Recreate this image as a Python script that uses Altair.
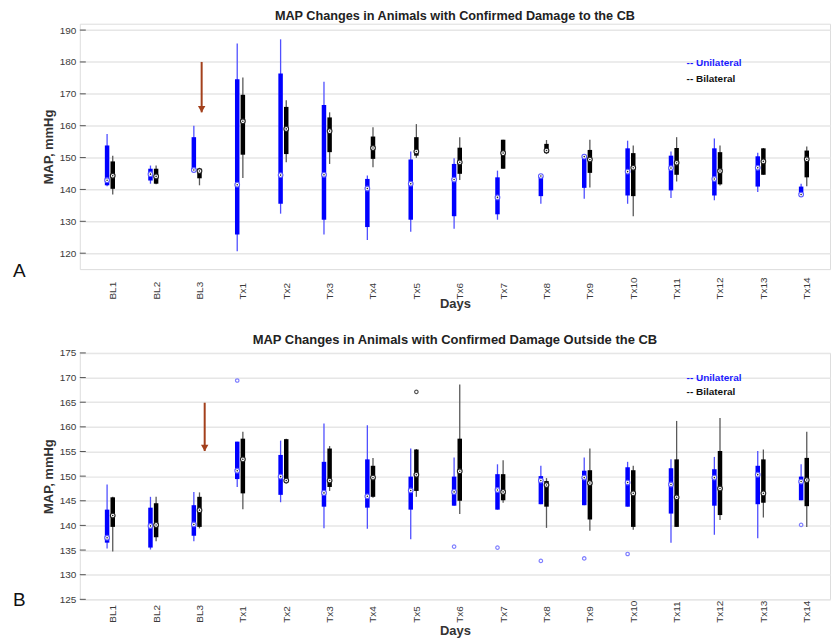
import altair as alt
import pandas as pd

days = ["BL1", "BL2", "BL3", "Tx1", "Tx2", "Tx3", "Tx4", "Tx5", "Tx6",
        "Tx7", "Tx8", "Tx9", "Tx10", "Tx11", "Tx12", "Tx13", "Tx14"]
groups = ["Unilateral", "Bilateral"]

# ---------------- Panel A: damage to the CB ----------------
a_uni_low  = [141.0, 141.8, 145.8, 120.6, 132.4, 125.9, 124.1, 126.7, 127.7, 130.5, 135.5, 137.1, 135.5, 137.3, 136.6, 139.2, 138.3]
a_uni_q1   = [141.3, 142.8, 145.9, 125.9, 135.5, 130.5, 128.2, 130.5, 131.6, 132.2, 137.9, 140.5, 138.1, 139.7, 138.1, 140.9, 138.5]
a_uni_med  = [142.9, 144.8, 146.1, 141.5, 144.5, 144.6, 140.3, 141.8, 143.1, 137.5, 144.2, 150.3, 145.6, 146.7, 143.3, 146.8, 138.4]
a_uni_q3   = [153.8, 146.5, 156.4, 174.6, 176.4, 166.5, 143.3, 149.4, 148.0, 143.8, 144.2, 150.6, 152.9, 150.6, 152.9, 150.4, 140.9]
a_uni_high = [157.4, 147.5, 160.0, 185.8, 187.1, 173.8, 144.4, 151.9, 149.8, 145.9, 144.2, 150.8, 155.3, 151.9, 156.0, 151.5, 141.8]

a_bi_low  = [138.4, 141.6, 141.3, 143.6, 148.5, 148.0, 147.0, 149.9, 143.0, 146.5, 151.1, 140.6, 131.6, 142.5, 141.2, 144.6, 141.0]
a_bi_q1   = [140.2, 141.8, 143.5, 150.9, 151.1, 151.7, 149.6, 150.6, 144.9, 146.5, 151.4, 145.2, 137.9, 144.6, 141.6, 144.6, 143.8]
a_bi_med  = [144.3, 144.1, 145.8, 161.4, 159.0, 158.3, 153.0, 151.9, 148.5, 151.4, 152.2, 149.4, 146.8, 148.4, 145.8, 148.8, 149.5]
a_bi_q3   = [148.8, 146.5, 146.5, 169.7, 165.9, 162.6, 156.6, 156.4, 153.1, 155.6, 154.3, 152.4, 151.4, 153.0, 151.7, 152.9, 152.2]
a_bi_high = [150.6, 147.5, 146.8, 175.1, 168.0, 164.2, 159.5, 160.5, 156.4, 155.6, 155.5, 155.6, 153.8, 156.4, 153.8, 153.0, 153.5]

a_out_group = []
a_out_day = []
a_out_val = []

# ---------------- Panel B: damage outside the CB ----------------
b_uni_low  = [135.3, 135.1, 136.8, 147.8, 144.7, 139.4, 139.3, 137.2, 144.0, 143.2, 144.3, 144.1, 143.8, 136.5, 138.1, 137.4, 145.1]
b_uni_q1   = [136.5, 135.5, 137.9, 149.4, 146.2, 143.8, 143.6, 143.2, 144.0, 143.2, 144.3, 144.1, 143.8, 142.4, 144.0, 144.3, 145.1]
b_uni_med  = [137.5, 139.9, 140.2, 151.1, 149.9, 146.6, 145.9, 147.1, 146.8, 147.2, 149.1, 149.7, 148.7, 148.3, 149.7, 150.3, 148.9]
b_uni_q3   = [143.2, 143.6, 144.1, 157.0, 154.3, 152.9, 153.4, 149.9, 149.9, 150.4, 150.0, 151.1, 151.8, 151.6, 151.4, 152.1, 149.9]
b_uni_high = [148.3, 145.8, 146.8, 157.0, 157.2, 160.7, 160.3, 155.6, 153.8, 152.4, 152.1, 153.8, 152.9, 153.4, 153.9, 155.1, 152.4]

b_bi_low  = [134.7, 136.8, 139.4, 143.3, 148.5, 147.0, 145.6, 145.8, 142.3, 144.6, 139.5, 138.9, 139.1, 139.7, 141.1, 141.6, 139.7]
b_bi_q1   = [139.7, 137.6, 139.7, 146.5, 149.0, 147.8, 145.8, 147.0, 145.0, 145.1, 143.8, 141.2, 139.7, 139.7, 142.1, 144.6, 143.9]
b_bi_med  = [142.0, 140.1, 143.1, 153.4, 149.1, 149.1, 149.7, 150.3, 151.0, 146.8, 148.2, 148.6, 146.5, 145.7, 147.5, 146.5, 149.2]
b_bi_q3   = [145.7, 144.5, 145.8, 157.6, 157.5, 155.6, 152.1, 155.4, 157.6, 150.4, 149.0, 151.2, 151.2, 153.4, 155.1, 153.4, 153.7]
b_bi_high = [145.8, 145.8, 146.7, 159.0, 157.6, 156.1, 153.7, 155.5, 168.6, 153.2, 149.6, 155.6, 152.1, 161.2, 161.8, 155.4, 159.0]

b_out_group = ["Unilateral"] * 7 + ["Bilateral"]
b_out_day = ["Tx1", "Tx6", "Tx7", "Tx8", "Tx9", "Tx10", "Tx14", "Tx5"]
b_out_val = [169.4, 135.7, 135.5, 132.8, 133.3, 134.2, 140.1, 167.1]

# annotations
a_title = "MAP Changes in Animals with Confirmed Damage to the CB"
b_title = "MAP Changes in Animals with Confirmed Damage Outside the CB"
a_yticks = [120, 130, 140, 150, 160, 170, 180, 190]
b_yticks = [125, 130, 135, 140, 145, 150, 155, 160, 165, 170, 175]
legend_text = ["-- Unilateral", "-- Bilateral"]
a_legend_y = [179.8, 174.7]
b_legend_y = [169.9, 167.0]
legend_x = 14.23
a_arrow = {"x": 3.05, "top": 180.0, "tip": 164.2}
b_arrow = {"x": 3.12, "top": 164.9, "tip": 155.1}

# styles
x_shift = {"Unilateral": -0.13, "Bilateral": 0.0}
box_col = ["#0000ff", "#000000"]
whisk_col = ["#5050ff", "#5a5a5a"]
ring_col = ["#5a5aff", "#222222"]
out_col = ["#7f7fff", "#555555"]
legend_col = ["#1a1aff", "#111111"]
arrow_col = "#a3401c"
FONT = "Liberation Sans"

idx = {d: i + 1 for i, d in enumerate(days)}
label_expr = "[" + ",".join("'%s'" % d for d in days) + "][datum.value - 1]"


def box_frame(stats):
    rows = []
    for g, (low, q1, med, q3, high) in zip(groups, stats):
        for i, d in enumerate(days):
            rows.append(dict(day=d, group=g, pos=idx[d] + x_shift[g],
                             low=low[i], q1=q1[i], med=med[i], q3=q3[i], high=high[i]))
    return pd.DataFrame(rows)


def out_frame(gs, ds, vs):
    return pd.DataFrame({"group": gs, "day": ds, "value": vs,
                         "pos": [idx[d] + x_shift[g] for g, d in zip(gs, ds)]})


def panel(df, odf, ydom, yticks, title, tsize, letter, legend_y, arrow, height, lpad, tpad):
    xs = alt.Scale(domain=[0.241, 17.536], nice=False, zero=False)
    ys = alt.Scale(domain=ydom, nice=False, zero=False)
    xax = alt.Axis(values=list(range(1, 18)), labelExpr=label_expr, labelAngle=-90,
                   labelAlign="left", labelBaseline="middle", labelPadding=lpad,
                   labelFontSize=10, labelColor="#3a3a3a", ticks=False, tickSize=0,
                   domain=False, grid=False, title="Days", titleFontSize=13,
                   titleFontWeight="bold", titleColor="#333333", titlePadding=tpad,
                   labelFont=FONT, titleFont=FONT)
    yax = alt.Axis(values=yticks, labelFontSize=10, labelColor="#3a3a3a", labelPadding=4,
                   ticks=False, tickSize=0, domain=False, grid=True, gridColor="#e6e6e6",
                   gridWidth=1.5, title="MAP, mmHg", titleFontSize=13, titleFontWeight="bold",
                   titleColor="#333333", titlePadding=4, labelFont=FONT, titleFont=FONT)

    def X(f):
        return alt.X(f, type="quantitative", scale=xs, axis=xax)

    def Y(f):
        return alt.Y(f, type="quantitative", scale=ys, axis=yax)

    base = alt.Chart(df)
    whisk = base.mark_rule(strokeWidth=1.3).encode(
        x=X("pos"), y=Y("low"), y2="high",
        color=alt.Color("group:N", scale=alt.Scale(domain=groups, range=whisk_col), legend=None))
    box = base.mark_rule(strokeWidth=4.5, strokeCap="butt").encode(
        x=X("pos"), y=Y("q1"), y2="q3",
        stroke=alt.Stroke("group:N", scale=alt.Scale(domain=groups, range=box_col), legend=None))
    ring = base.mark_point(shape="circle", filled=True, fill="white", size=22,
                           strokeWidth=1.1, opacity=1).encode(
        x=X("pos"), y=Y("med"),
        stroke=alt.Stroke("group:N", scale=alt.Scale(domain=groups, range=ring_col), legend=None))
    dot = base.mark_point(shape="circle", filled=True, size=2.5, color="#222222", opacity=1).encode(
        x=X("pos"), y=Y("med"))
    layers = [whisk, box, ring, dot]
    if len(odf):
        outl = alt.Chart(odf).mark_point(shape="circle", filled=False, size=12,
                                          strokeWidth=1.2, opacity=1).encode(
            x=X("pos"), y=Y("value"),
            stroke=alt.Stroke("group:N", scale=alt.Scale(domain=groups, range=out_col), legend=None))
        layers.append(outl)
    tick_df = pd.DataFrame({"v": yticks})
    ticks = alt.Chart(tick_df).mark_rule(color="#555555", strokeWidth=1).encode(
        y=Y("v"), x=alt.value(0), x2=alt.value(6))
    leg_df = pd.DataFrame({"t": legend_text, "y": legend_y, "x": [legend_x] * 2, "g": groups})
    leg = alt.Chart(leg_df).mark_text(align="left", baseline="middle", fontSize=10,
                                      fontWeight="bold", font=FONT).encode(
        x=X("x"), y=Y("y"), text="t:N",
        color=alt.Color("g:N", scale=alt.Scale(domain=groups, range=legend_col), legend=None))
    arr_df = pd.DataFrame({"x": [arrow["x"]], "top": [arrow["top"]], "tip": [arrow["tip"]]})
    arr_line = alt.Chart(arr_df).mark_rule(color=arrow_col, strokeWidth=2).encode(
        x=X("x"), y=Y("top"), y2="tip")
    arr_head = alt.Chart(arr_df).mark_point(shape="triangle-down", filled=True, size=55,
                                            color=arrow_col, opacity=1, yOffset=-3).encode(
        x=X("x"), y=Y("tip"))
    let_df = pd.DataFrame({"t": [letter]})
    let = alt.Chart(let_df).mark_text(align="left", baseline="alphabetic", fontSize=19,
                                      font=FONT, color="#111111").encode(
        text="t:N", x=alt.value(-67), y=alt.value(254))
    layers += [ticks, leg, arr_line, arr_head, let]
    return alt.layer(*layers).resolve_scale(color="independent", stroke="independent").properties(
        width=752, height=height,
        title=alt.TitleParams(title, fontSize=tsize, fontWeight="bold", font=FONT,
                              color="#222222", offset=1, anchor="middle"))


dfa = box_frame([(a_uni_low, a_uni_q1, a_uni_med, a_uni_q3, a_uni_high),
                 (a_bi_low, a_bi_q1, a_bi_med, a_bi_q3, a_bi_high)])
dfb = box_frame([(b_uni_low, b_uni_q1, b_uni_med, b_uni_q3, b_uni_high),
                 (b_bi_low, b_bi_q1, b_bi_med, b_bi_q3, b_bi_high)])
oa = out_frame(a_out_group, a_out_day, a_out_val)
ob = out_frame(b_out_group, b_out_day, b_out_val)

pa = panel(dfa, oa, [115.0, 192.0], a_yticks, a_title, 12.7, "A", a_legend_y, a_arrow, 246, 30, -2)
pb = panel(dfb, ob, [125.0, 175.0], b_yticks, b_title, 13, "B", b_legend_y, b_arrow, 247, 23, 2)

chart = alt.vconcat(pa, pb, spacing=84, bounds="flush").properties(
    padding={"left": 12, "top": 8, "right": 1, "bottom": 2},
    background="white",
).configure_view(stroke="#6e6e6e", strokeWidth=1.5).configure(font=FONT)

chart.save("out.html", embed_options={"renderer": "svg", "actions": False})
